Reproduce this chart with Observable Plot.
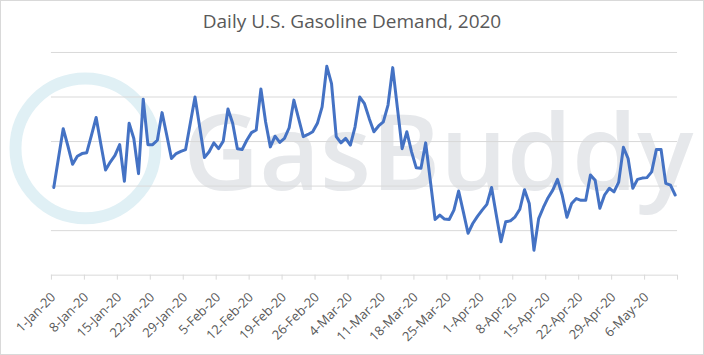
<!DOCTYPE html>
<html><head><meta charset="utf-8">
<script src="https://cdn.jsdelivr.net/npm/d3@7"></script>
<script src="https://cdn.jsdelivr.net/npm/@observablehq/plot@0.6"></script>
<style>
body{margin:0;background:#fff;}
#wrap{position:relative;width:704px;height:355px;box-sizing:border-box;border:1px solid #d9d9d9;background:#fff;overflow:hidden;font-family:"Open Sans",sans-serif;}
#title{position:absolute;left:0;top:0;width:100%;height:40px;line-height:40px;text-align:center;font-size:19px;color:#595959;}
#chart{position:absolute;left:-1px;top:39px;}
#chart g[aria-label="x-axis tick label"]{fill:#595959;}
</style></head><body>
<div id="wrap"><div id="title">Daily U.S. Gasoline Demand, 2020</div><div id="chart"></div></div>
<script>
// Daily series, one value per day starting 1-Jan-2020 (relative units, axis unlabeled)
const startDate = "2020-01-01";
const demand = [
1.97,2.63,3.29,2.90,2.49,2.67,2.73,2.75,3.14,3.54,
2.94,2.36,2.54,2.69,2.93,2.11,3.41,3.07,2.28,3.95,
2.93,2.93,3.03,3.65,3.14,2.62,2.73,2.78,2.82,3.41,
4.00,3.32,2.64,2.77,2.97,2.84,3.01,3.73,3.41,2.84,
2.82,3.03,3.20,3.26,4.18,3.44,2.88,3.12,2.98,3.07,
3.31,3.93,3.52,3.11,3.16,3.22,3.41,3.78,4.69,4.30,
3.11,2.97,3.07,2.92,3.33,4.00,3.85,3.52,3.22,3.35,
3.44,3.82,4.66,3.75,2.84,3.22,2.77,2.41,2.40,2.97,
2.11,1.25,1.35,1.26,1.25,1.46,1.89,1.42,0.94,1.16,
1.32,1.46,1.59,1.97,1.35,0.75,1.20,1.22,1.31,1.48,
1.92,1.61,0.56,1.27,1.52,1.74,1.91,2.15,1.80,1.30,
1.61,1.72,1.68,1.68,2.25,2.13,1.50,1.80,1.95,1.87,
2.09,2.87,2.62,1.95,2.15,2.18,2.19,2.32,2.82,2.82,
2.06,2.02,1.80
];
const tickLabels = ["1-Jan-20","8-Jan-20","15-Jan-20","22-Jan-20","29-Jan-20","5-Feb-20","12-Feb-20","19-Feb-20","26-Feb-20","4-Mar-20","11-Mar-20","18-Mar-20","25-Mar-20","1-Apr-20","8-Apr-20","15-Apr-20","22-Apr-20","29-Apr-20","6-May-20"];
const axisEnd = "13-May-20";
const gridValues = [1,2,3,4,5];
const yDomain = [0,5];

const parse = d3.utcParse("%d-%b-%y");
const fmt = d3.utcFormat("%-d-%b-%y");
const start = d3.utcParse("%Y-%m-%d")(startDate);
const rows = demand.map((v,i)=>({date: d3.utcHour.offset(d3.utcDay.offset(start,i),12), value: v}));
const tickDates = tickLabels.map(parse).concat([parse(axisEnd)]);
const labelDates = tickLabels.map(parse);

const chart = Plot.plot({
  width: 704, height: 316,
  marginLeft: 51, marginRight: 26, marginTop: 12, marginBottom: 81,
  style: {fontFamily: "'Open Sans', sans-serif", fontSize: "13px", background: "transparent"},
  x: {type: "utc", domain: [start, parse(axisEnd)], axis: null},
  y: {domain: yDomain, axis: null},
  marks: [
    Plot.dot([0], {frameAnchor: "top-left", dx: 34, dy: 96, r: 70, fill: "none", stroke: "#e0f0f5", strokeWidth: 12}),
    Plot.text(["GasBuddy"], {frameAnchor: "top-left", dx: 132, dy: 138, lineAnchor: "bottom", textAnchor: "start", fontSize: 105, fontWeight: 600, fill: "#e6e8eb"}),
    Plot.gridY(gridValues, {stroke: "#d9d9d9", strokeOpacity: 1}),
    Plot.ruleY([0], {stroke: "#d9d9d9"}),
    Plot.ruleX(tickDates, {x: d => d, y1: 0, y2: 0, insetBottom: -5, stroke: "#d9d9d9"}),
    Plot.axisX({ticks: labelDates, tickSize: 0, tickPadding: 10, tickRotate: -45, tickFormat: fmt, fontSize: 13, dx: 2, dy: 10}),
    Plot.line(rows, {x: "date", y: "value", stroke: "#4472c4", strokeWidth: 3, strokeLinejoin: "round", curve: "linear"})
  ]
});
document.getElementById("chart").appendChild(chart);
</script>
</body></html>
